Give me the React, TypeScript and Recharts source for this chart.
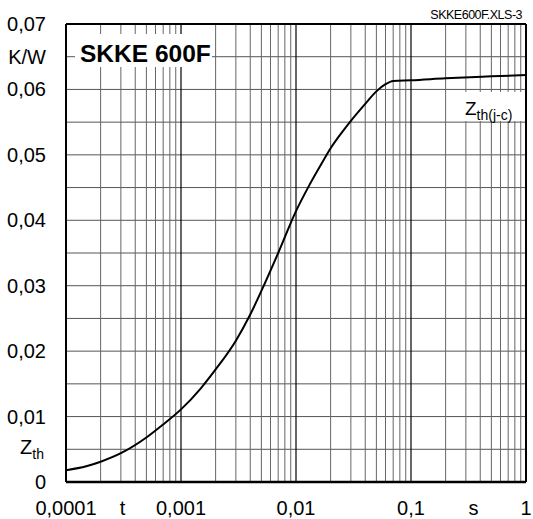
import { LineChart, Line, XAxis, YAxis, CartesianGrid, ReferenceLine } from "recharts"

// Zth(j-c) transient thermal impedance
const times = [
  0.0001, 0.00015, 0.0002, 0.0003, 0.0005, 0.0007, 0.001, 0.0015, 0.002, 0.003, 0.004,
  0.005, 0.007, 0.01, 0.013, 0.017, 0.02, 0.025, 0.03, 0.04, 0.05, 0.06, 0.07, 0.1, 0.2,
  0.5, 1,
]
const zth = [
  0.0018, 0.0024, 0.0031, 0.0044, 0.0068, 0.0088, 0.0111, 0.0144, 0.0172, 0.0216, 0.0256,
  0.0292, 0.035, 0.0414, 0.0453, 0.0489, 0.051, 0.0534, 0.0552, 0.0578, 0.0597, 0.0608,
  0.0613, 0.0614, 0.0617, 0.062, 0.0622,
]

const decades = [0.0001, 0.001, 0.01, 0.1, 1]
const minorSteps = [2, 3, 4, 5, 6, 7, 8, 9]

const xTicks = [0.0001, 0.00031, 0.001, 0.01, 0.1, 0.35, 1]
const xTickLabels = ["0,0001", "t", "0,001", "0,01", "0,1", "s", "1"]

const yTicks = [0, 0.005, 0.01, 0.015, 0.02, 0.025, 0.03, 0.035, 0.04, 0.045, 0.05, 0.055, 0.06, 0.065, 0.07]
const yTickLabels = ["0", "Zth", "0,01", "", "0,02", "", "0,03", "", "0,04", "", "0,05", "", "0,06", "K/W", "0,07"]

const data = times.map((t, i) => ({ t, z: zth[i] }))
const minorLines = decades.slice(0, 4).flatMap((d) => minorSteps.map((m) => d * m))

const FONT = "'Liberation Sans', Arial, Helvetica, sans-serif"

function XTick(props: any) {
  const { x, index } = props
  return (
    <text x={x} y={515} textAnchor="middle" fontSize={20} fontFamily={FONT} fill="#000">
      {xTickLabels[index]}
    </text>
  )
}

function YTick(props: any) {
  const { y, index } = props
  const label = yTickLabels[index]
  if (!label) return null
  if (label === "Zth") {
    return (
      <text x={44} y={y + 5} textAnchor="end" fontSize={20} fontFamily={FONT} fill="#000">
        Z<tspan fontSize={14} dy={5}>th</tspan>
      </text>
    )
  }
  return (
    <text x={46} y={y + 7} textAnchor="end" fontSize={20} fontFamily={FONT} fill="#000">
      {label}
    </text>
  )
}

export default function App() {
  return (
    <div style={{ position: "absolute", left: 0, top: 0, width: 533, height: 519, background: "#fff" }}>
      <LineChart
        width={533}
        height={519}
        data={data}
        margin={{ top: 24, right: 7, bottom: 0, left: 0 }}
      >
        <CartesianGrid vertical={false} stroke="#555" strokeWidth={1} />
        {minorLines.map((v) => (
          <ReferenceLine key={v} x={v} stroke="#666" strokeWidth={1} ifOverflow="visible" />
        ))}
        {decades.slice(1, 4).map((v) => (
          <ReferenceLine key={"d" + v} x={v} stroke="#000" strokeWidth={1.2} ifOverflow="visible" />
        ))}
        <XAxis
          dataKey="t"
          type="number"
          scale="log"
          domain={[0.0001, 1]}
          ticks={xTicks}
          interval={0}
          allowDataOverflow
          axisLine={false}
          tickLine={false}
          height={37}
          tick={<XTick />}
        />
        <YAxis
          type="number"
          domain={[0, 0.07]}
          ticks={yTicks}
          interval={0}
          axisLine={false}
          tickLine={false}
          width={66}
          tick={<YTick />}
        />
        <ReferenceLine y={0} stroke="#000" strokeWidth={2.5} ifOverflow="visible" />
        <ReferenceLine y={0.07} stroke="#000" strokeWidth={2} ifOverflow="visible" />
        <ReferenceLine x={0.0001} stroke="#000" strokeWidth={2} ifOverflow="visible" />
        <ReferenceLine x={1} stroke="#000" strokeWidth={2} ifOverflow="visible" />
        <Line
          type="monotone"
          dataKey="z"
          stroke="#000"
          strokeWidth={2}
          dot={false}
          isAnimationActive={false}
        />
      </LineChart>
      <svg
        width={533}
        height={519}
        style={{ position: "absolute", left: 0, top: 0, pointerEvents: "none" }}
      >
        <rect x={75} y={34} width={137} height={33} fill="#fff" />
        <text x={80} y={62} fontSize={24.5} fontWeight="bold" fontFamily={FONT} fill="#000">
          SKKE 600F
        </text>
        <rect x={460} y={92} width={64} height={29} fill="#fff" />
        <text x={465} y={115} fontSize={19} fontFamily={FONT} fill="#000">
          Z<tspan fontSize={14} dy={5}>th(j-c)</tspan>
        </text>
        <text x={522} y={19} textAnchor="end" fontSize={12.5} letterSpacing={-0.5} fontFamily={FONT} fill="#000">
          SKKE600F.XLS-3
        </text>
      </svg>
    </div>
  )
}
